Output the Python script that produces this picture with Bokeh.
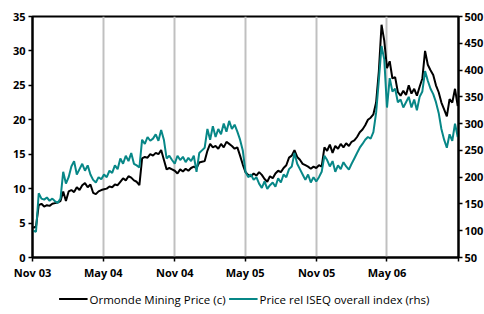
import datetime as dt
from bokeh.plotting import figure
from bokeh.layouts import column
from bokeh.models import (Range1d, LinearAxis, FixedTicker, Legend, LegendItem, ColumnDataSource)
from bokeh.embed import file_html
from bokeh.resources import INLINE

start = dt.datetime(2003, 11, 3)

ormonde = [4.3, 4.5, 7.6, 7.8, 7.4, 7.6, 7.5, 7.8, 7.9, 8.0, 8.2, 9.6, 8.2, 9.6, 9.8, 9.5, 10.2, 9.8, 10.5, 10.8,
           10.2, 10.6, 9.4, 9.2, 9.6, 9.8, 9.9, 10.0, 10.3, 10.2, 10.6, 10.5, 11.0, 11.5, 11.2, 11.8, 11.6, 11.2, 11.0, 10.5,
           14.4, 14.6, 14.5, 15.0, 14.8, 15.2, 15.0, 15.6, 14.2, 12.8, 13.0, 12.8, 12.6, 12.2, 12.8, 12.5, 12.9, 12.6, 13.0, 13.2,
           13.0, 13.8, 13.9, 14.0, 15.5, 16.5, 16.0, 16.2, 15.8, 16.5, 16.0, 16.8, 16.5, 16.2, 15.8, 16.0, 14.8, 13.5, 12.4, 12.0,
           11.8, 12.2, 11.9, 12.4, 12.0, 11.4, 11.0, 11.8, 11.5, 12.2, 12.6, 12.4, 13.0, 13.4, 14.5, 14.8, 15.6, 14.6, 14.2, 13.6,
           13.4, 13.2, 12.9, 13.2, 13.0, 13.4, 13.2, 16.0, 15.5, 16.4, 15.2, 16.2, 15.8, 16.5, 16.0, 16.6, 16.2, 16.8, 17.0, 17.5,
           18.2, 18.6, 19.2, 20.0, 20.3, 20.8, 22.5, 27.0, 33.8, 31.5, 27.5, 28.5, 26.0, 26.2, 24.0, 23.5, 24.2, 23.6, 25.0, 23.8,
           24.5, 23.5, 24.8, 26.0, 30.0, 28.0, 27.2, 26.5, 25.0, 24.0, 22.5, 21.5, 20.5, 23.0, 22.5, 24.5, 22.0]

rel_iseq = [100, 98, 170, 160, 158, 162, 156, 160, 155, 152, 160, 210, 188, 200, 220, 230, 205, 215, 225, 212,
            222, 205, 195, 190, 200, 196, 205, 200, 212, 208, 222, 215, 235, 225, 240, 230, 245, 225, 222, 218,
            270, 262, 275, 268, 272, 280, 268, 288, 270, 235, 240, 232, 225, 240, 232, 238, 228, 236, 230, 240,
            210, 245, 250, 255, 290, 270, 295, 275, 290, 280, 300, 285, 305, 290, 298, 285, 270, 250, 210, 200,
            205, 195, 200, 188, 180, 192, 178, 185, 190, 182, 198, 190, 205, 200, 215, 220, 245, 225, 215, 205,
            195, 205, 190, 200, 192, 200, 210, 240, 232, 220, 230, 210, 222, 215, 228, 220, 214, 225, 235, 245,
            255, 262, 270, 275, 272, 284, 320, 380, 445, 420, 330, 385, 360, 365, 340, 345, 330, 340, 350, 330,
            345, 325, 350, 360, 398, 380, 365, 355, 340, 320, 290, 270, 255, 280, 268, 300, 275]

dates = [start + dt.timedelta(weeks=i) for i in range(len(ormonde))]

tick_dates = [dt.datetime(2003, 11, 1), dt.datetime(2004, 5, 1), dt.datetime(2004, 11, 1),
              dt.datetime(2005, 5, 1), dt.datetime(2005, 11, 1), dt.datetime(2006, 5, 1),
              dt.datetime(2006, 11, 1)]
tick_labels = ["Nov 03", "May 04", "Nov 04", "May 05", "Nov 05", "May 06", ""]

left_ticks = [0, 5, 10, 15, 20, 25, 30, 35]
right_ticks = [50, 100, 150, 200, 250, 300, 350, 400, 450, 500]

series_names = ["Ormonde Mining Price (c)", "Price rel ISEQ overall index (rhs)"]

FONT = "Open Sans"
TEAL = "#078787"

def ms(d):
    return (d - dt.datetime(1970, 1, 1)).total_seconds() * 1000.0

src = ColumnDataSource(dict(date=dates, orm=ormonde, rel=rel_iseq))

p = figure(frame_width=426, frame_height=241, x_axis_type="datetime", output_backend="svg",
           toolbar_location=None,
           x_range=Range1d(tick_dates[0], tick_dates[-1]), y_range=Range1d(0, 35),
           min_border_left=32, min_border_right=0, min_border_top=16, min_border_bottom=24)
p.extra_y_ranges = {"rhs": Range1d(50, 500)}

p.outline_line_color = "black"
p.outline_line_width = 2
p.background_fill_color = "white"
p.border_fill_color = "white"

tick_ms = [ms(d) for d in tick_dates]
p.xaxis.ticker = FixedTicker(ticks=tick_ms)
p.xaxis.major_label_overrides = {t: l for t, l in zip(tick_ms, tick_labels)}
p.xgrid.ticker = FixedTicker(ticks=tick_ms)
p.xgrid.grid_line_color = "#C0C0C0"
p.xgrid.grid_line_width = 2
p.ygrid.grid_line_color = None

for ax in p.xaxis + p.yaxis:
    ax.axis_line_color = "black"
    ax.axis_line_width = 2
    ax.major_tick_line_color = "black"
    ax.major_tick_line_width = 1.5
    ax.major_tick_in = 0
    ax.major_tick_out = 4
    ax.minor_tick_line_color = None
    ax.major_label_text_font = FONT
    ax.major_label_text_font_style = "bold"
    ax.major_label_text_font_size = "11px"
    ax.major_label_text_color = "black"

p.xaxis.major_label_standoff = 3
p.yaxis.ticker = FixedTicker(ticks=left_ticks)
p.yaxis.major_label_standoff = 3

ry = LinearAxis(y_range_name="rhs", ticker=FixedTicker(ticks=right_ticks))
ry.axis_line_color = "black"
ry.axis_line_width = 2
ry.major_tick_line_color = "black"
ry.major_tick_line_width = 1.5
ry.major_tick_in = 0
ry.major_tick_out = 4
ry.minor_tick_line_color = None
ry.major_label_standoff = 2
ry.major_label_text_font = FONT
ry.major_label_text_font_style = "bold"
ry.major_label_text_font_size = "11px"
ry.major_label_text_color = "black"
p.add_layout(ry, "right")

p.line("date", "orm", source=src, line_color="black", line_width=2)
p.line("date", "rel", source=src, y_range_name="rhs", line_color=TEAL, line_width=2)

# legend strip below the chart (same series, drawn outside its visible range)
lg = figure(width=484, height=33, output_backend="svg", toolbar_location=None,
            x_axis_type="datetime", x_range=Range1d(tick_dates[0], tick_dates[-1]),
            y_range=Range1d(-20, -10), min_border_left=4, min_border_right=0,
            min_border_top=0, min_border_bottom=0)
lg.axis.visible = False
lg.grid.visible = False
lg.outline_line_color = None
lg.background_fill_color = "white"
lg.border_fill_color = "white"
l_orm = lg.line("date", "orm", source=src, line_color="black", line_width=2)
l_rel = lg.line("date", "rel", source=src, line_color=TEAL, line_width=2)

legend = Legend(items=[LegendItem(label=series_names[0], renderers=[l_orm]),
                       LegendItem(label=series_names[1], renderers=[l_rel])],
                orientation="horizontal", location="center",
                label_text_font=FONT, label_text_font_size="11.5px", label_text_color="black",
                glyph_width=29, glyph_height=14, label_height=14, label_standoff=2,
                spacing=3, padding=1, margin=0, border_line_color=None,
                background_fill_alpha=0)
lg.add_layout(legend, "center")

open("out.html", "w").write(file_html(column(p, lg, spacing=0), INLINE))
